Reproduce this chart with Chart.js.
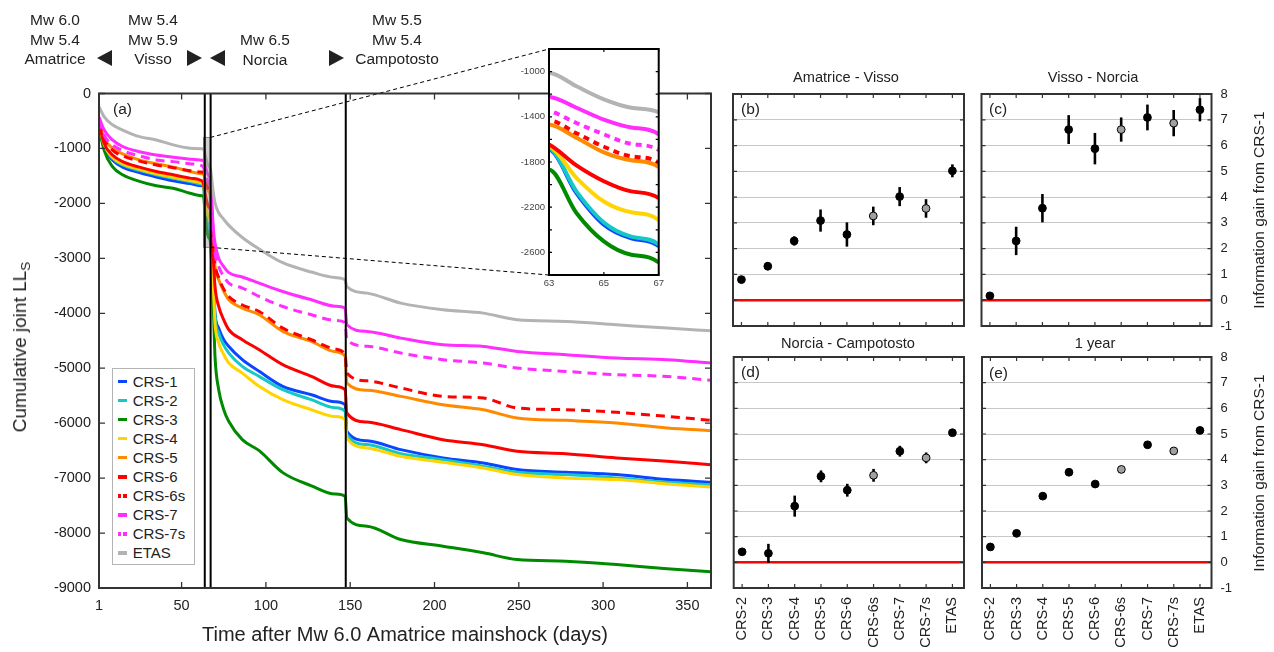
<!DOCTYPE html>
<html><head><meta charset="utf-8">
<script src="https://cdn.jsdelivr.net/npm/chart.js@4.4.1/dist/chart.umd.min.js"></script>
<style>
html,body{margin:0;padding:0;background:#fff;}
#wrap{position:relative;width:1274px;height:652px;overflow:hidden;font-family:'Liberation Sans',Arial,Helvetica,sans-serif;color:#222;}
canvas{position:absolute;}
.grp{position:absolute;width:160px;text-align:center;font-size:15.5px;line-height:19.5px;}
.tl{position:absolute;width:0;height:0;border-top:8.5px solid transparent;border-bottom:8.5px solid transparent;border-right:15px solid #222;}
.tr{position:absolute;width:0;height:0;border-top:8.5px solid transparent;border-bottom:8.5px solid transparent;border-left:15px solid #222;}
.ptitle{position:absolute;width:240px;text-align:center;font-size:14.6px;line-height:18px;}
.plab{position:absolute;font-size:15.5px;line-height:18px;}
.rot{position:absolute;white-space:nowrap;transform:translate(-50%,-50%) rotate(-90deg);}
#legend{position:absolute;left:112px;top:368px;width:81px;height:195px;border:1px solid #b4b4b4;background:#fff;}
.li{position:absolute;left:0;width:80px;height:18px;font-size:15px;line-height:18px;}
.sw{position:absolute;left:4.5px;top:7px;width:9px;height:3.5px;}
.lt{position:absolute;left:19.7px;top:0;}
</style></head>
<body><div id="wrap">
<canvas id="cMain" width="720" height="652" style="left:0;top:0"></canvas>
<canvas id="cInset" width="172" height="257" style="left:495px;top:38px"></canvas>
<canvas id="cB" width="245" height="276" style="left:725px;top:72px"></canvas>
<canvas id="cC" width="299" height="276" style="left:975px;top:72px"></canvas>
<canvas id="cD" width="257" height="317" style="left:725px;top:335px"></canvas>
<canvas id="cE" width="299" height="317" style="left:975px;top:335px"></canvas>

<div class="grp" style="left:-25px;top:10px">Mw 6.0<br>Mw 5.4<br>Amatrice</div>
<div class="tl" style="left:97px;top:50px"></div>
<div class="grp" style="left:73px;top:10px">Mw 5.4<br>Mw 5.9<br>Visso</div>
<div class="tr" style="left:187px;top:50px"></div>
<div class="tl" style="left:210px;top:50px"></div>
<div class="grp" style="left:185px;top:30px">Mw 6.5<br>Norcia</div>
<div class="tr" style="left:329px;top:50px"></div>
<div class="grp" style="left:317px;top:10px">Mw 5.5<br>Mw 5.4<br>Campotosto</div>

<div class="plab" style="left:113px;top:100px">(a)</div>
<div class="rot" style="left:20px;top:347px;font-size:19px">Cumulative joint LL<span style="font-size:0.72em;position:relative;top:0.3em">S</span></div>
<div id="legend"></div>

<div class="ptitle" style="left:726px;top:68px">Amatrice - Visso</div>
<div class="ptitle" style="left:973px;top:68px">Visso - Norcia</div>
<div class="ptitle" style="left:728px;top:334px">Norcia - Campotosto</div>
<div class="ptitle" style="left:975px;top:334px">1 year</div>
<div class="plab" style="left:741px;top:100px">(b)</div>
<div class="plab" style="left:989px;top:100px">(c)</div>
<div class="plab" style="left:741px;top:363px">(d)</div>
<div class="plab" style="left:989px;top:364px">(e)</div>
<div class="rot" style="left:1259px;top:210px;font-size:15.5px">Information gain from CRS-1</div>
<div class="rot" style="left:1259px;top:473px;font-size:15.5px">Information gain from CRS-1</div>
</div>
<script>
// ---------- DATA: panel (a) cumulative joint log-likelihood ----------
const days = [1, 4, 9, 15, 25, 35, 45, 55, 62, 63, 64, 65, 66, 67, 68.8, 69.8, 72, 75, 78, 86, 96, 110, 127, 141, 147, 148, 160, 180, 205, 229, 249, 278, 308, 338, 364];
const crs1  = [-580, -980, -1210, -1340, -1440, -1520, -1590, -1640, -1680, -1690, -2075, -2355, -2475, -2545, -3350, -3997, -4270, -4480, -4603, -4845, -5057, -5330, -5482, -5610, -5664, -6149, -6320, -6482, -6633, -6724, -6845, -6894, -6936, -7027, -7076];
const crs2  = [-560, -950, -1180, -1300, -1400, -1480, -1545, -1600, -1650, -1675, -2060, -2335, -2460, -2530, -3400, -4057, -4360, -4580, -4724, -4967, -5148, -5390, -5573, -5720, -5785, -6209, -6390, -6555, -6664, -6785, -6894, -6936, -6997, -7076, -7118];
const crs3  = [-600, -1030, -1330, -1480, -1600, -1680, -1725, -1815, -1860, -1867, -2251, -2503, -2621, -2690, -3876, -4785, -5390, -5755, -5970, -6300, -6500, -6900, -7140, -7290, -7330, -7724, -7876, -8118, -8239, -8360, -8482, -8512, -8573, -8651, -8706];
const crs4  = [-550, -930, -1160, -1280, -1380, -1460, -1525, -1585, -1630, -1660, -1940, -2150, -2245, -2315, -3500, -4178, -4540, -4750, -4906, -5090, -5330, -5573, -5755, -5880, -5936, -6270, -6450, -6603, -6712, -6815, -6936, -6997, -7027, -7106, -7160];
const crs5  = [-510, -815, -995, -1100, -1210, -1280, -1340, -1420, -1460, -1467, -1585, -1715, -1785, -1845, -2800, -3148, -3390, -3600, -3755, -3906, -4027, -4330, -4512, -4700, -4785, -5270, -5400, -5512, -5664, -5755, -5906, -5949, -5997, -6088, -6136];
const crs6  = [-540, -905, -1120, -1240, -1340, -1420, -1480, -1540, -1590, -1645, -1830, -1970, -2060, -2120, -3000, -3510, -3876, -4120, -4300, -4480, -4664, -4936, -5148, -5330, -5390, -5815, -5980, -6118, -6300, -6391, -6512, -6555, -6633, -6694, -6755];
const crs6s = [-520, -830, -1030, -1135, -1230, -1300, -1350, -1405, -1430, -1432, -1545, -1665, -1750, -1805, -2750, -3100, -3350, -3560, -3694, -3850, -3967, -4270, -4482, -4650, -4755, -5088, -5230, -5360, -5512, -5542, -5724, -5755, -5803, -5876, -5949];
const crs7  = [-430, -660, -845, -965, -1060, -1120, -1160, -1195, -1215, -1222, -1320, -1425, -1495, -1555, -2450, -2720, -3000, -3150, -3260, -3340, -3451, -3603, -3755, -3870, -3906, -4209, -4330, -4452, -4573, -4603, -4694, -4755, -4815, -4845, -4906];
const crs7s = [-480, -755, -935, -1040, -1135, -1210, -1240, -1280, -1315, -1345, -1455, -1555, -1640, -1695, -2550, -2900, -3150, -3330, -3451, -3540, -3694, -3876, -4027, -4130, -4167, -4482, -4600, -4724, -4845, -4906, -4997, -5058, -5118, -5149, -5221];
const etas  = [-240, -420, -570, -665, -785, -845, -935, -995, -1005, -1010, -1130, -1245, -1320, -1360, -1800, -1990, -2170, -2290, -2400, -2620, -2830, -3080, -3250, -3350, -3391, -3512, -3633, -3815, -3936, -3997, -4118, -4148, -4209, -4270, -4318];
const seriesNames = ['CRS-1','CRS-2','CRS-3','CRS-4','CRS-5','CRS-6','CRS-6s','CRS-7','CRS-7s','ETAS'];
const seriesValues = [crs1, crs2, crs3, crs4, crs5, crs6, crs6s, crs7, crs7s, etas];
const eventDays = [63.74, 67.21, 147.36];
const mainXTicks = [1, 50, 100, 150, 200, 250, 300, 350];
const zoomDays = [63, 67];
const zoomRange = [-2800, -800];
const insetXTicks = [63, 65, 67];
const insetLabelTicks = [-1000, -1400, -1800, -2200, -2600];

// ---------- DATA: panels (b)-(e) information gain ----------
const categories = ['CRS-2','CRS-3','CRS-4','CRS-5','CRS-6','CRS-6s','CRS-7','CRS-7s','ETAS'];
const gainAmatriceVisso = [0.80, 1.32, 2.30, 3.09, 2.55, 3.27, 4.02, 3.56, 5.02];
const errAmatriceVisso  = [0.04, 0.16, 0.18, 0.43, 0.47, 0.36, 0.37, 0.36, 0.25];
const gainVissoNorcia   = [0.17, 2.30, 3.57, 6.62, 5.88, 6.62, 7.09, 6.87, 7.39];
const errVissoNorcia    = [0.04, 0.55, 0.55, 0.56, 0.61, 0.47, 0.50, 0.51, 0.45];
const gainNorciaCampo   = [0.41, 0.35, 2.19, 3.35, 2.81, 3.39, 4.33, 4.07, 5.05];
const errNorciaCampo    = [0.03, 0.37, 0.41, 0.23, 0.25, 0.25, 0.21, 0.21, 0.13];
const gainOneYear       = [0.60, 1.13, 2.58, 3.51, 3.05, 3.62, 4.58, 4.34, 5.14];
const errOneYear        = [0.03, 0.12, 0.10, 0.04, 0.06, 0.05, 0.04, 0.04, 0.04];
const smoothedModels = ['CRS-6s','CRS-7s'];

// ---------- styles ----------
const seriesColors = ['#0a46ff','#14c8c8','#008a00','#ffd400','#ff8a00','#ff0000','#ff0000','#ff2eff','#ff2eff','#b3b3b3'];
const seriesDashed = [false,false,false,false,false,false,true,false,true,false];
const FONT = "'Liberation Sans', Arial, Helvetica, sans-serif";
Chart.defaults.font.family = FONT;
Chart.defaults.color = '#222';

// legend
(function(){
  const lg = document.getElementById('legend');
  seriesNames.forEach((n,i)=>{
    const item = document.createElement('div');
    item.className='li'; item.style.top = (3.5 + 19.1*i) + 'px';
    const sw = document.createElement('div'); sw.className='sw';
    sw.style.background = seriesDashed[i]
      ? `repeating-linear-gradient(90deg, ${seriesColors[i]} 0 3.5px, transparent 3.5px 5.5px)`
      : seriesColors[i];
    const t = document.createElement('div'); t.className='lt'; t.textContent=n;
    item.appendChild(sw); item.appendChild(t); lg.appendChild(item);
  });
})();

const boxTicks = {
  id:'boxTicks',
  afterDraw(chart, args, o){
    const {ctx, chartArea:a, scales} = chart;
    ctx.save();
    ctx.strokeStyle = o.color; ctx.lineWidth = o.tickWidth; ctx.setLineDash([]);
    ctx.beginPath();
    o.xTicks.forEach(v=>{const x=scales.x.getPixelForValue(v);
      ctx.moveTo(x,a.bottom); ctx.lineTo(x,a.bottom-o.len); ctx.moveTo(x,a.top); ctx.lineTo(x,a.top+o.len);});
    o.yTicks.forEach(v=>{const y=scales.y.getPixelForValue(v);
      ctx.moveTo(a.left,y); ctx.lineTo(a.left+o.len,y); ctx.moveTo(a.right,y); ctx.lineTo(a.right-o.len,y);});
    ctx.stroke();
    ctx.lineWidth = o.borderWidth;
    ctx.strokeRect(a.left, a.top, a.right-a.left, a.bottom-a.top);
    ctx.restore();
  }
};
const whiteBg = {
  id:'whiteBg',
  beforeDraw(chart){ const {ctx, chartArea:a}=chart; ctx.save(); ctx.fillStyle='#fff';
    ctx.fillRect(a.left,a.top,a.right-a.left,a.bottom-a.top); ctx.restore(); }
};
function range(a,b,s){const r=[];for(let v=a;v<=b+1e-9;v+=s)r.push(v);return r;}

function lineDatasets(width, dash){
  return seriesValues.map((vals,i)=>({
    label: seriesNames[i],
    data: days.map((d,k)=>({x:d, y:vals[k]})),
    borderColor: seriesColors[i], borderWidth: width,
    borderDash: seriesDashed[i] ? dash : [],
    pointRadius: 0, fill:false, cubicInterpolationMode:'monotone',
    order: seriesNames.length - i
  }));
}

// ---------- inset ----------
const insetChart = new Chart(document.getElementById('cInset'), {
  type:'line',
  data:{datasets: lineDatasets(4, [6,5])},
  options:{
    responsive:false, animation:false, events:[],
    layout:{padding:{top:11, right:4.7, left:0, bottom:0}},
    plugins:{legend:{display:false}, tooltip:{enabled:false},
      boxTicks:{color:'#000', tickWidth:1.2, len:3, borderWidth:2, xTicks:insetXTicks, yTicks:range(zoomRange[0],zoomRange[1],200)}},
    scales:{
      x:{type:'linear', min:zoomDays[0], max:zoomDays[1],
        afterBuildTicks:s=>{s.ticks=insetXTicks.map(v=>({value:v}));},
        ticks:{font:{size:9.5}, color:'#444', padding:3, autoSkip:false, maxRotation:0, callback:v=>String(v)},
        grid:{display:false, drawTicks:false}, border:{display:false},
        afterFit:s=>{s.height=20;}},
      y:{min:zoomRange[0], max:zoomRange[1],
        ticks:{stepSize:200, font:{size:9.5}, color:'#444', padding:4, autoSkip:false,
          callback:v=>insetLabelTicks.includes(v)?String(v):''},
        grid:{display:false, drawTicks:false}, border:{display:false},
        afterFit:s=>{s.width=54;}}
    }
  },
  plugins:[whiteBg, boxTicks]
});

// ---------- main ----------
const mainExtras = {
  id:'mainExtras',
  afterDatasetsDraw(chart){
    const {ctx, chartArea:a, scales:{x,y}} = chart;
    ctx.save();
    const bx0=x.getPixelForValue(zoomDays[0]), bx1=x.getPixelForValue(zoomDays[1]);
    const by0=y.getPixelForValue(zoomRange[1]), by1=y.getPixelForValue(zoomRange[0]);
    ctx.fillStyle='rgba(150,150,150,0.45)'; ctx.fillRect(bx0,by0,bx1-bx0,by1-by0);
    ctx.strokeStyle='#8a8a8a'; ctx.lineWidth=1; ctx.strokeRect(bx0,by0,bx1-bx0,by1-by0);
    ctx.strokeStyle='#000'; ctx.lineWidth=2;
    eventDays.forEach(d=>{const px=x.getPixelForValue(d); ctx.beginPath(); ctx.moveTo(px,a.top); ctx.lineTo(px,a.bottom); ctx.stroke();});
    const ia = insetChart.chartArea;
    ctx.setLineDash([4,3]); ctx.lineWidth=1;
    ctx.beginPath();
    ctx.moveTo(bx1,by0); ctx.lineTo(495+ia.left, 38+ia.top);
    ctx.moveTo(bx1,by1); ctx.lineTo(495+ia.left, 38+ia.bottom);
    ctx.stroke();
    ctx.restore();
  }
};
new Chart(document.getElementById('cMain'), {
  type:'line',
  data:{datasets: lineDatasets(3, [9,6])},
  options:{
    responsive:false, animation:false, events:[],
    layout:{padding:{top:93.5, right:9, left:0, bottom:0}},
    plugins:{legend:{display:false}, tooltip:{enabled:false},
      boxTicks:{color:'#333', tickWidth:1.3, len:6, borderWidth:2, xTicks:mainXTicks, yTicks:range(-9000,0,1000)}},
    scales:{
      x:{type:'linear', min:1, max:364,
        afterBuildTicks:s=>{s.ticks=mainXTicks.map(v=>({value:v}));},
        ticks:{font:{size:14.5}, color:'#222', padding:9, autoSkip:false, maxRotation:0, callback:v=>String(v)},
        grid:{display:false, drawTicks:false}, border:{display:false},
        title:{display:true, text:'Time after Mw 6.0 Amatrice mainshock (days)', font:{size:20}, color:'#222', padding:{top:0,bottom:5}},
        afterFit:s=>{s.height=64;}},
      y:{min:-9000, max:0,
        ticks:{stepSize:1000, font:{size:14.5}, color:'#222', padding:8, autoSkip:false, callback:v=>String(v)},
        grid:{display:false, drawTicks:false}, border:{display:false},
        afterFit:s=>{s.width=99;}}
    }
  },
  plugins:[mainExtras, boxTicks]
});

// ---------- panels ----------
const errorBars = {
  id:'errorBars',
  beforeDatasetsDraw(chart, args, o){
    const {ctx, scales:{x,y}} = chart;
    ctx.save(); ctx.strokeStyle='#000'; ctx.lineWidth=2.6;
    o.values.forEach((v,i)=>{
      const px=x.getPixelForValue(i+1);
      ctx.beginPath(); ctx.moveTo(px,y.getPixelForValue(v-o.errors[i])); ctx.lineTo(px,y.getPixelForValue(v+o.errors[i])); ctx.stroke();
    });
    ctx.restore();
  }
};
function panel(id, values, errors, cfg){
  const catPos = categories.map((c,i)=>i+1);
  return new Chart(document.getElementById(id), {
    type:'scatter',
    data:{datasets:[{
      data: values.map((v,i)=>({x:i+1, y:v})),
      pointRadius:3.9, pointBorderWidth:1, pointBorderColor:'#000',
      pointBackgroundColor: categories.map(c=>smoothedModels.includes(c)?'#a0a0a0':'#000')
    }]},
    options:{
      responsive:false, animation:false, events:[],
      layout:{padding:cfg.pad},
      plugins:{legend:{display:false}, tooltip:{enabled:false},
        errorBars:{values, errors},
        boxTicks:{color:'#333', tickWidth:1.2, len:4, borderWidth:2, xTicks:catPos, yTicks:range(-1,8,1)}},
      scales:{
        x:{type:'linear', min:0.68, max:9.44, display: cfg.xLabels,
          afterBuildTicks:s=>{s.ticks=catPos.map(v=>({value:v}));},
          ticks:{font:{size:14.5}, color:'#222', padding:9, autoSkip:false, minRotation:90, maxRotation:90,
            callback:v=>categories[Math.round(v)-1]},
          grid:{display:false, drawTicks:false}, border:{display:false},
          afterFit:s=>{s.height = cfg.xLabels ? 64 : 0;}},
        y:{min:-1, max:8, position: cfg.yLabels?'right':'left',
          ticks:{stepSize:1, display: cfg.yLabels, autoSkip:false, font:{size:13}, color:'#222', padding:9},
          grid:{drawTicks:false,
            color:c=>c.tick.value===0?'#ff0000':(c.tick.value>=1&&c.tick.value<=7?'#c8c8c8':'rgba(0,0,0,0)'),
            lineWidth:c=>c.tick.value===0?2.5:1},
          border:{display:false},
          afterFit:s=>{s.width = cfg.yLabels ? 62.5 : 0;}}
      }
    },
    plugins:[errorBars, boxTicks]
  });
}
panel('cB', gainAmatriceVisso, errAmatriceVisso, {xLabels:false, yLabels:false, pad:{left:8, right:6, top:22, bottom:22}});
panel('cC', gainVissoNorcia, errVissoNorcia, {xLabels:false, yLabels:true, pad:{left:6.5, right:0, top:22, bottom:22}});
panel('cD', gainNorciaCampo, errNorciaCampo, {xLabels:true, yLabels:false, pad:{left:8.7, right:18, top:22, bottom:0}});
panel('cE', gainOneYear, errOneYear, {xLabels:true, yLabels:true, pad:{left:7, right:0, top:22, bottom:0}});
</script>
</body></html>
